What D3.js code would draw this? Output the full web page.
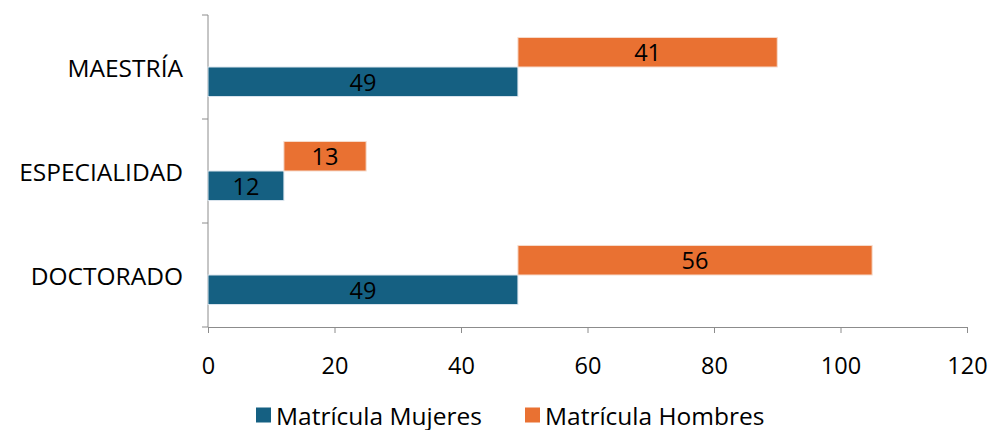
<!DOCTYPE html>
<html lang="es">
<head>
<meta charset="UTF-8">
<title>Matrícula por nivel</title>
<script src="https://d3js.org/d3.v7.min.js"></script>
<style>
  body { margin: 0; background: #fff; }
  svg text { font-family: "Open Sans", sans-serif; fill: #000; }
  .axis path, .axis line { stroke: #8c8c8c; }
</style>
</head>
<body>
<div id="chart"></div>
<script>
var categories = ['MAESTRÍA', 'ESPECIALIDAD', 'DOCTORADO'];
var mujeres = [49, 12, 49];
var hombres = [41, 13, 56];
var seriesNames = ['Matrícula Mujeres', 'Matrícula Hombres'];
var xTicks = [0, 20, 40, 60, 80, 100, 120];

var width = 990, height = 430;
var margin = {top: 15, right: 23, bottom: 103, left: 208};
var colors = ['#156082', '#E97132'];
var fs = 23.5, fsCat = 24.5;

var svg = d3.select('#chart').append('svg')
    .attr('width', width)
    .attr('height', height);

var x = d3.scaleLinear().domain([0, 120]).range([margin.left, width - margin.right]);
var y = d3.scaleBand().domain(categories).range([margin.top, height - margin.bottom]).padding(0);
var barH = y.bandwidth() * 0.284;

// x axis
var xAxis = svg.append('g').attr('class', 'axis')
    .attr('transform', 'translate(0,' + (height - margin.bottom) + ')')
    .call(d3.axisBottom(x).tickValues(xTicks).tickSize(6).tickSizeOuter(6));
xAxis.selectAll('text')
    .attr('y', 38).attr('dy', null)
    .attr('dominant-baseline', 'central')
    .style('font-size', fs + 'px')
    .style('font-family', '"Open Sans", sans-serif')
    .style('fill', '#000');

// y axis: line with ticks at category boundaries
var yAxis = svg.append('g').attr('class', 'axis');
yAxis.append('line')
    .attr('x1', x(0)).attr('x2', x(0))
    .attr('y1', y.range()[0]).attr('y2', y.range()[1]);
var bounds = categories.map(function (c) { return y(c); }).concat(y.range()[1]);
yAxis.selectAll('line.tick').data(bounds).enter().append('line')
    .attr('class', 'tick')
    .attr('x1', x(0) - 6).attr('x2', x(0))
    .attr('y1', function (d) { return d; }).attr('y2', function (d) { return d; });

svg.selectAll('text.cat').data(categories).enter().append('text')
    .attr('class', 'cat')
    .attr('x', x(0) - 25)
    .attr('y', function (c) { return y(c) + y.bandwidth() / 2; })
    .attr('text-anchor', 'end')
    .attr('dominant-baseline', 'central')
    .attr('font-size', fsCat)
    .text(function (c) { return c; });

// Mujeres bars (lower half), Hombres stacked after them (upper half)
var rows = categories.map(function (c, i) { return {cat: c, m: mujeres[i], h: hombres[i]}; });

svg.selectAll('rect.muj').data(rows).enter().append('rect')
    .attr('class', 'muj')
    .attr('x', x(0))
    .attr('y', function (d) { return y(d.cat) + y.bandwidth() / 2; })
    .attr('width', function (d) { return x(d.m) - x(0); })
    .attr('height', barH)
    .attr('fill', colors[0])
    .attr('stroke', '#dbe6ee').attr('stroke-width', 1);

svg.selectAll('rect.hom').data(rows).enter().append('rect')
    .attr('class', 'hom')
    .attr('x', function (d) { return x(d.m); })
    .attr('y', function (d) { return y(d.cat) + y.bandwidth() / 2 - barH; })
    .attr('width', function (d) { return x(d.m + d.h) - x(d.m); })
    .attr('height', barH)
    .attr('fill', colors[1])
    .attr('stroke', '#f6dccd').attr('stroke-width', 1);

// value labels
svg.selectAll('text.lm').data(rows).enter().append('text')
    .attr('x', function (d) { return (x(0) + x(d.m)) / 2; })
    .attr('y', function (d) { return y(d.cat) + y.bandwidth() / 2 + barH / 2; })
    .attr('text-anchor', 'middle').attr('dominant-baseline', 'central')
    .attr('font-size', fs)
    .text(function (d) { return d.m; });

svg.selectAll('text.lh').data(rows).enter().append('text')
    .attr('x', function (d) { return (x(d.m) + x(d.m + d.h)) / 2; })
    .attr('y', function (d) { return y(d.cat) + y.bandwidth() / 2 - barH / 2; })
    .attr('text-anchor', 'middle').attr('dominant-baseline', 'central')
    .attr('font-size', fs)
    .text(function (d) { return d.h; });

// legend
var legendX = [256, 525];
var legend = svg.selectAll('g.legend').data(seriesNames).enter().append('g')
    .attr('class', 'legend')
    .attr('transform', function (d, i) { return 'translate(' + legendX[i] + ',415)'; });
legend.append('rect')
    .attr('x', 0).attr('y', -7.5).attr('width', 15).attr('height', 15)
    .attr('fill', function (d, i) { return colors[i]; });
legend.append('text')
    .attr('x', 20).attr('dominant-baseline', 'central')
    .attr('font-size', fsCat)
    .text(function (d) { return d; });
</script>
</body>
</html>
